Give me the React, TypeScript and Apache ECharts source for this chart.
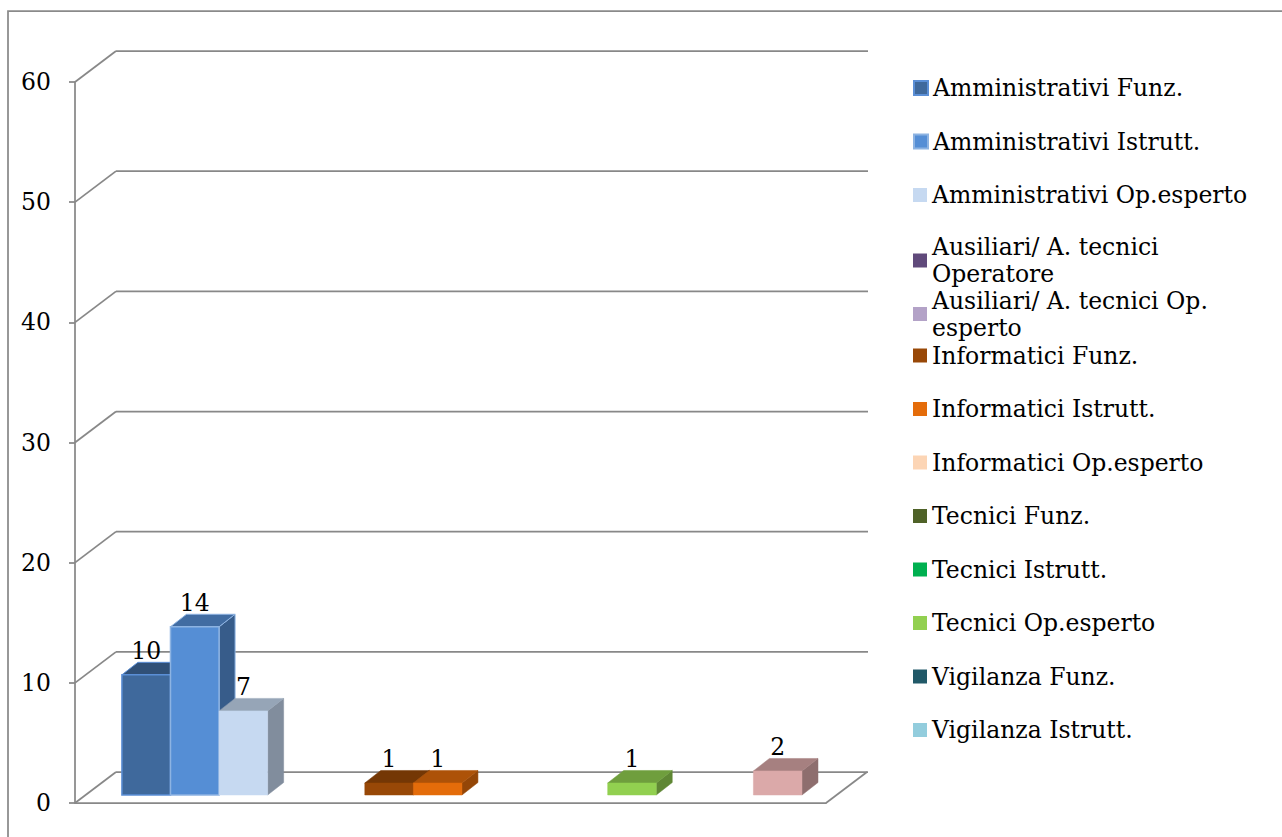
import React, { useEffect, useRef } from 'react';
import * as echarts from 'echarts';

// ---- data ----
const categories = [''];
const seriesNames = [
  'Amministrativi Funz.',
  'Amministrativi Istrutt.',
  'Amministrativi Op.esperto',
  'Ausiliari/ A. tecnici Operatore',
  'Ausiliari/ A. tecnici Op. esperto',
  'Informatici Funz.',
  'Informatici Istrutt.',
  'Informatici Op.esperto',
  'Tecnici Funz.',
  'Tecnici Istrutt.',
  'Tecnici Op.esperto',
  'Vigilanza Funz.',
  'Vigilanza Istrutt.',
  'Vigilanza Op.esperto',
];
const seriesValues = [10, 14, 7, 0, 0, 1, 1, 0, 0, 0, 1, 0, 0, 2];
const yTicks = [0, 10, 20, 30, 40, 50, 60];
const legendNames = seriesNames.slice(0, 13);

// ---- styles ----
const frontColors = [
  '#3F699C', '#558ED5', '#C6D9F1', '#604A7B', '#B3A2C7', '#984807', '#E46C0A',
  '#FCD5B5', '#4F6228', '#00B050', '#92D050', '#215968', '#93CDDD', '#DBA9A9',
];
const borderColors = [
  '#5B8FD6', '#8DB3E2', null, null, null, null, null, null, null, null, null, null, null, null,
];

const FONT = "'DejaVu Serif', serif";
const FONT_SIZE = 23.5;
const GRID_LEFT = 75;
const GRID_TOP = 82;
const GRID_W = 751;
const GRID_H = 721;
const DEPTH_X = 41;
const DEPTH_Y = -31;
const SLOTS = 15.46;
const LEAD = 0.76;
const BAR_OFF_X = 10;
const BAR_OFF_Y = -8;
const BAR_DX = 16;
const BAR_DY = -12.5;
const GRID_COLOR = '#888888';

function shade(hex: string, f: number): string {
  const n = parseInt(hex.slice(1), 16);
  const r = Math.round(((n >> 16) & 255) * f);
  const g = Math.round(((n >> 8) & 255) * f);
  const b = Math.round((n & 255) * f);
  return '#' + [r, g, b].map((c) => c.toString(16).padStart(2, '0')).join('');
}

export default function App() {
  const ref = useRef<HTMLDivElement>(null);

  useEffect(() => {
    if (!ref.current) return;
    const chart = echarts.init(ref.current, null, { renderer: 'svg' });

    const wallSeries: any = {
      type: 'custom',
      name: '__walls',
      z: 1,
      silent: true,
      data: yTicks.map((v) => [0, v]),
      encode: { x: 0, y: 1 },
      renderItem: (params: any, api: any) => {
        const v = api.value(1);
        const p = api.coord([0, v]);
        const cs = params.coordSys;
        const x = cs.x;
        const y = p[1];
        const children: any[] = [
          {
            type: 'line',
            shape: { x1: x, y1: y, x2: x + DEPTH_X, y2: y + DEPTH_Y },
            style: { stroke: GRID_COLOR, lineWidth: 1.75 },
          },
          {
            type: 'line',
            shape: { x1: x + DEPTH_X, y1: y + DEPTH_Y, x2: x + cs.width + DEPTH_X + 1, y2: y + DEPTH_Y },
            style: { stroke: GRID_COLOR, lineWidth: 1.75 },
          },
        ];
        if (v === 0) {
          children.push({
            type: 'line',
            shape: { x1: x + cs.width, y1: y, x2: x + cs.width + DEPTH_X, y2: y + DEPTH_Y },
            style: { stroke: GRID_COLOR, lineWidth: 1.75 },
          });
        }
        return { type: 'group', children };
      },
    };

    const barSeries = seriesNames.map((name, i) => {
      const front = frontColors[i];
      const border = borderColors[i];
      const top = shade(front, 0.76);
      const side = shade(front, 0.65);
      return {
        type: 'custom',
        name,
        z: 3,
        itemStyle: { color: front, borderColor: border || front, borderWidth: border ? 1 : 0 },
        data: [[0, seriesValues[i]]],
        encode: { x: 0, y: 1 },
        renderItem: (params: any, api: any) => {
          const v = api.value(1);
          if (!v) return null;
          const base = api.coord([0, 0]);
          const tp = api.coord([0, v]);
          const bw = api.size([1, 0])[0];
          const unit = bw / SLOTS;
          const x0 = base[0] - bw / 2 + unit * (i + LEAD) + BAR_OFF_X;
          const yb = base[1] + BAR_OFF_Y;
          const yt = tp[1] + BAR_OFF_Y;
          const w = unit;
          const sTop = border || top;
          const sSide = border || side;
          return {
            type: 'group',
            children: [
              {
                type: 'polygon',
                shape: {
                  points: [
                    [x0 + w, yt],
                    [x0 + w + BAR_DX, yt + BAR_DY],
                    [x0 + w + BAR_DX, yb + BAR_DY],
                    [x0 + w, yb],
                  ],
                },
                style: { fill: side, stroke: sSide, lineWidth: border ? 1 : 0.5 },
              },
              {
                type: 'polygon',
                shape: {
                  points: [
                    [x0, yt],
                    [x0 + w, yt],
                    [x0 + w + BAR_DX, yt + BAR_DY],
                    [x0 + BAR_DX, yt + BAR_DY],
                  ],
                },
                style: { fill: top, stroke: sTop, lineWidth: border ? 1 : 0.5 },
              },
              {
                type: 'rect',
                shape: { x: x0, y: yt, width: w, height: yb - yt },
                style: { fill: front, stroke: border || front, lineWidth: border ? 1.5 : 0.5 },
              },
              {
                type: 'text',
                style: {
                  text: String(v),
                  x: x0 + w / 2,
                  y: yt + BAR_DY - 11,
                  align: 'center',
                  verticalAlign: 'middle',
                  fill: '#000',
                  font: `${FONT_SIZE}px ${FONT}`,
                },
              },
            ],
          };
        },
      };
    });

    const legends = legendNames.map((name, i) => ({
      show: true,
      orient: 'vertical',
      left: 913,
      top: 74.5 + i * 53.5,
      padding: 0,
      itemWidth: 14,
      itemHeight: 14,
      itemGap: 0,
      itemTextGap: 5,
      icon: 'rect',
      selectedMode: false,
      data: [name],
      textStyle: {
        fontFamily: FONT,
        fontSize: FONT_SIZE,
        color: '#000',
        width: 335,
        overflow: 'break',
        lineHeight: 27,
        height: 27,
      },
    }));

    const option: any = {
      animation: false,
      textStyle: { fontFamily: FONT },
      grid: {
        left: GRID_LEFT,
        top: GRID_TOP,
        width: GRID_W,
        height: GRID_H,
        containLabel: false,
        outerBoundsMode: 'none',
      },
      xAxis: {
        type: 'category',
        data: categories,
        axisLine: { show: true, lineStyle: { color: GRID_COLOR, width: 1.75 } },
        axisTick: { show: false },
        axisLabel: { show: false },
        splitLine: { show: false },
      },
      yAxis: {
        type: 'value',
        min: 0,
        max: 60,
        interval: 10,
        axisLine: { show: true, lineStyle: { color: GRID_COLOR, width: 1.75 } },
        axisTick: { show: true, length: 6, lineStyle: { color: GRID_COLOR, width: 1.75 } },
        axisLabel: {
          color: '#000',
          fontSize: FONT_SIZE,
          fontFamily: FONT,
          margin: 24,
          padding: [8, 0, 0, 0],
        },
        splitLine: { show: false },
      },
      legend: legends,
      graphic: [
        {
          type: 'polyline',
          shape: { points: [[8, 845], [8, 11], [1290, 11]] },
          style: { stroke: '#8A8A8A', lineWidth: 1.75, fill: 'none' },
          silent: true,
        },
      ],
      series: [wallSeries, ...barSeries],
    };

    chart.setOption(option);
    return () => chart.dispose();
  }, []);

  return (
    <div
      ref={ref}
      style={{ position: 'absolute', left: 0, top: 0, width: 1282, height: 837, background: '#fff' }}
    />
  );
}
